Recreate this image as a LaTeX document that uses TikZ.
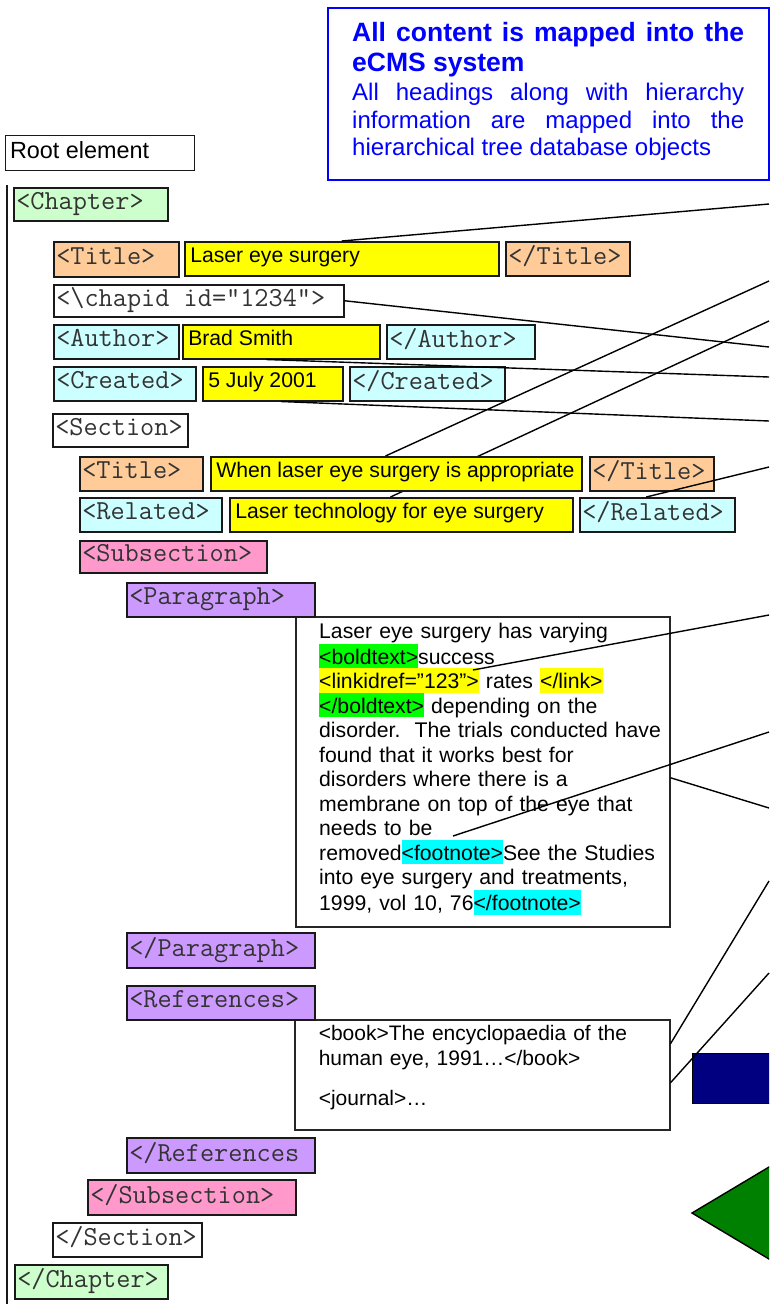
\documentclass[tikz,border=0pt]{standalone}
\usepackage{fontspec}
\setmainfont{Liberation Sans}
\usetikzlibrary{calc}
\definecolor{cgreen}{RGB}{204,255,204}
\definecolor{corange}{RGB}{255,204,153}
\definecolor{ccyan}{RGB}{204,255,255}
\definecolor{cpink}{RGB}{255,153,204}
\definecolor{cpurple}{RGB}{204,153,255}
\definecolor{cyell}{RGB}{255,255,0}
\definecolor{hlgreen}{RGB}{0,255,0}
\definecolor{hlcyan}{RGB}{0,255,255}
\definecolor{hlyellow}{RGB}{255,255,0}
\definecolor{navyblue}{RGB}{0,0,128}
\definecolor{darkgreen}{RGB}{0,128,0}
\definecolor{headblue}{RGB}{0,0,255}
\newcommand\hlt[2]{{\setlength{\fboxsep}{0pt}\colorbox{#1}{\rule[-4.2pt]{0pt}{24.5pt}#2}}}
\newcommand\monofnt{\ttfamily\fontsize{27.5}{30}\selectfont}
\newcommand\sansfnt{\fontsize{21.2}{24.5}\selectfont}
% mono tag: name, x, y, width, height, fill, text
\newcommand\mtag[7]{\node[tagbox,fill=#6,minimum height=#5pt] (#1) at (#2,#3) {\makebox[#4pt][l]{\hspace{2.5pt}\monofnt\color{black!80}\rule[-7pt]{0pt}{21pt}#7}};}
% sans (yellow) tag: name, x, y, width, height, text
\newcommand\stag[6]{\node[tagbox,fill=cyell,minimum height=#5pt] (#1) at (#2,#3) {\makebox[#4pt][l]{\hspace{5.5pt}\sansfnt\rule[-7pt]{0pt}{17pt}#6}};}
\tikzset{
  tagbox/.style={draw=black!90, line width=1.5pt, anchor=north west, inner sep=0pt},
  conn/.style={line width=1.4pt, black},
  textbox/.style={draw=black!85, line width=1.5pt, anchor=north west, inner sep=0pt, fill=white},
  headline/.style={anchor=base west, inner sep=0pt, text=headblue}
}
\begin{document}
\begin{tikzpicture}[x=1pt,y=-1pt]
\useasboundingbox (0,0) rectangle (769,1304);
\fill[white] (0,0) rectangle (769,1304);

% note box
\node[draw=headblue, line width=1.6pt, anchor=north west, minimum width=441pt, minimum height=172pt, inner sep=0pt] (note) at (327,7) {};
\node[headline, font=\fontsize{26.5}{30}\bfseries\selectfont] (h1) at (352,41.7) {\makebox[392pt][s]{All content is mapped into the}};
\node[headline, font=\fontsize{26.5}{30}\bfseries\selectfont] (h2) at (352,71.7) {eCMS system};
\node[headline, font=\fontsize{24}{28}\selectfont] (h3) at (352,100) {\makebox[392pt][s]{All headings along with hierarchy}};
\node[headline, font=\fontsize{24}{28}\selectfont] (h4) at (352,128.3) {\makebox[392pt][s]{information are mapped into the}};
\node[headline, font=\fontsize{24}{28}\selectfont] (h5) at (352,155.7) {hierarchical tree database objects};

% root element
\node[draw=black!90, line width=1.4pt, anchor=north west, minimum height=35pt, inner sep=0pt] (root) at (5,135) {\makebox[189pt][l]{\hspace{4.3pt}\fontsize{23.4}{26}\selectfont\rule[-5.4pt]{0pt}{22pt}Root element}};

% vertical line
\coordinate (vtop) at (7,185);
\coordinate (vbot) at (7,1304);
\draw[line width=1.4pt, black!90] (vtop) -- (vbot);

% paragraph box
\node[textbox, minimum width=374pt, minimum height=310pt] (para) at (295,616) {};
\node[anchor=north west, inner sep=0pt, text width=345pt, align=left, font=\sansfnt] (paratext) at (319,618) {\rule{0pt}{20.3pt}Laser eye surgery has varying\\
\hlt{hlgreen}{<boldtext>}success\\
\hlt{hlyellow}{<linkidref="123">} rates \hlt{hlyellow}{</link>}\\
\hlt{hlgreen}{</boldtext>} depending on the\\
disorder.\ \ The trials conducted have\\
found that it works best for\\
disorders where there is a\\
membrane on top of the eye that\\
needs to be\\
removed\hlt{hlcyan}{<footnote>}See the Studies\\
into eye surgery and treatments,\\
1999, vol 10, 76\hlt{hlcyan}{</footnote>}};

% references box
\node[textbox, minimum width=375pt, minimum height=110pt] (refbox) at (294,1019) {};
\node[anchor=north west, inner sep=0pt, text width=340pt, align=left, font=\fontsize{21}{25}\selectfont] (reftext) at (318.6,1020.4) {\rule{0pt}{20.3pt}<book>The encyclopaedia of the\\
human eye, 1991…</book>\\[14.5pt]
<journal>…};

% shapes at right edge
\begin{scope}
\clip (0,0) rectangle (769,1304);
\node[draw=black, fill=navyblue, line width=1.4pt, anchor=north west, minimum width=90pt, minimum height=50pt, inner sep=0pt] (bluerect) at (692,1053) {};
\draw[fill=darkgreen, line width=1.4pt] (692,1213) -- (800,1148.5) -- (800,1277.5) -- cycle;
\end{scope}

% connector free ends
\coordinate (e1) at (769,204);
\coordinate (e2) at (769,347);
\coordinate (e3) at (769,377);
\coordinate (e4) at (769,421);
\coordinate (e5) at (769,281);
\coordinate (e6) at (769,321);
\coordinate (e7) at (769,467);
\coordinate (e8) at (769,615);
\coordinate (e9) at (769,732);
\coordinate (e10) at (769,808);
\coordinate (e11) at (769,881);
\coordinate (e12) at (769,973);
\coordinate (p1) at (473,670);
\coordinate (p2) at (453,836);

% tags
\mtag{chapter}{13}{187}{154}{33}{cgreen}{<Chapter>}
\mtag{title1}{53}{241}{125}{35}{corange}{<Title>}
\stag{ylaser}{184}{241}{314}{34}{Laser eye surgery}
\mtag{etitle1}{505}{241}{124}{34}{corange}{</Title>}
\mtag{chapid}{53}{284}{290}{32}{white}{<\textbackslash chapid id="1234">}
\mtag{author}{53}{324}{125}{34}{ccyan}{<Author>}
\stag{ybrad}{182}{324}{197}{34}{Brad Smith}
\mtag{eauthor}{386}{324}{148}{34}{ccyan}{</Author>}
\mtag{created}{53}{366}{142}{34}{ccyan}{<Created>}
\stag{ydate}{202}{366}{140}{34}{5 July 2001}
\mtag{ecreated}{349}{366}{155}{34}{ccyan}{</Created>}
\mtag{section}{52}{413}{135}{33}{white}{<Section>}
\mtag{title2}{79}{456}{123}{34}{corange}{<Title>}
\mtag{etitle2}{589}{456}{124}{34}{corange}{</Title>}
\mtag{related}{79}{497}{142}{34}{ccyan}{<Related>}
\mtag{erelated}{579}{497}{155}{34}{ccyan}{</Related>}
\mtag{subsec}{79}{540}{187}{32}{cpink}{<Subsection>}
\mtag{parag}{126}{582}{188}{34}{cpurple}{<Paragraph>}
\mtag{eparag}{126}{932}{188}{35}{cpurple}{</Paragraph>}
\mtag{refs}{126}{985}{188}{34}{cpurple}{<References>}
\mtag{erefs}{126}{1137}{188}{35}{cpurple}{</References}
\mtag{esubsec}{87}{1179}{208}{35}{cpink}{</Subsection>}
\mtag{esection}{52}{1222}{149}{34}{white}{</Section>}
\mtag{echapter}{14}{1264}{153}{34}{cgreen}{</Chapter>}

% connectors
\draw[conn] (ylaser.north) -- (e1);
\draw[conn] (chapid.east) -- (e2);
\draw[conn] ([xshift=-15pt]ybrad.south) -- (e3);
\draw[conn] ([xshift=8pt]ydate.south) -- (e4);
\draw[conn] (p1) -- (e8);
\draw[conn] (p2) -- (e9);
\draw[conn] ([yshift=-6pt]para.east) -- (e10);
\draw[conn] ([yshift=31pt]refbox.east) -- (e11);
\draw[conn] ([yshift=-8pt]refbox.east) -- (e12);
\draw[conn] ([xshift=-11pt]erelated.north) -- (e7);

% lines that pass beneath the yellow boxes drawn next
\coordinate (wstart) at (385.5,456);
\coordinate (rstart) at (390.5,497);
\draw[conn] (wstart) -- (e5);
\draw[conn] (rstart) -- (e6);
\stag{ywhen}{210}{456}{371}{34}{When laser eye surgery is appropriate}
\stag{yrel}{229}{497}{343}{34}{Laser technology for eye surgery}
\end{tikzpicture}
\end{document}
